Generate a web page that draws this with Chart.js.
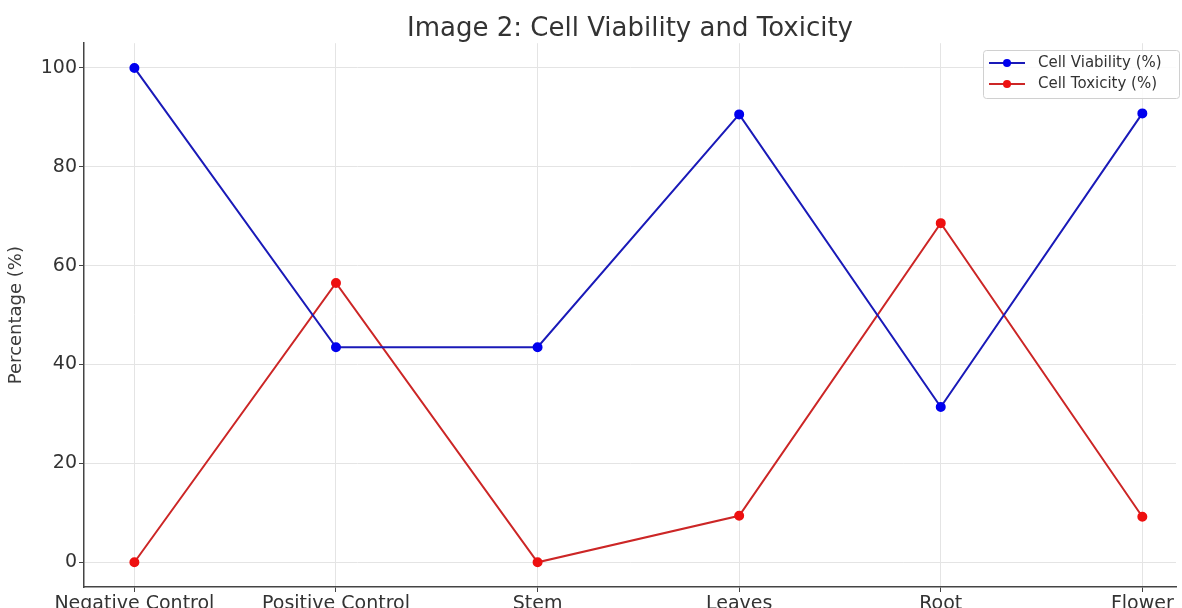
<!DOCTYPE html>
<html>
<head>
<meta charset="utf-8">
<script src="https://cdn.jsdelivr.net/npm/chart.js@4.4.1/dist/chart.umd.min.js"></script>
<style>
  html, body { margin: 0; padding: 0; background: #fff; overflow: hidden; }
  #wrap { width: 1182px; height: 608px; }
</style>
</head>
<body>
<div id="wrap"><canvas id="chart" width="1182" height="608"></canvas></div>
<script>
const categories = ['Negative Control', 'Positive Control', 'Stem', 'Leaves', 'Root', 'Flower'];
const viability  = [100, 43.5, 43.5, 90.6, 31.4, 90.8];
const toxicity   = [0, 56.5, 0, 9.4, 68.6, 9.2];
const yTicks     = [0, 20, 40, 60, 80, 100];

const FONT = "'DejaVu Sans', sans-serif";
const TEXT = '#333333';

const toPoints = arr => arr.map((v, i) => ({ x: i, y: v }));

// matplotlib-style legend box in the upper right corner of the plot
const innerLegend = {
  id: 'innerLegend',
  afterDraw(chart) {
    const ctx = chart.ctx;
    const w = 196, h = 48;
    const x = 983, y = 50;
    ctx.save();
    ctx.fillStyle = 'rgba(255,255,255,0.85)';
    ctx.strokeStyle = '#d0d0d0';
    ctx.lineWidth = 1;
    ctx.beginPath();
    ctx.roundRect(x + 0.5, y + 0.5, w, h, 3);
    ctx.fill();
    ctx.stroke();
    chart.data.datasets.forEach((ds, i) => {
      const cy = y + 13 + i * 21;
      ctx.strokeStyle = ds.borderColor;
      ctx.lineWidth = 2;
      ctx.beginPath();
      ctx.moveTo(x + 6, cy);
      ctx.lineTo(x + 42, cy);
      ctx.stroke();
      ctx.fillStyle = ds.pointBackgroundColor;
      ctx.beginPath();
      ctx.arc(x + 24, cy, 4, 0, Math.PI * 2);
      ctx.fill();
      ctx.fillStyle = TEXT;
      ctx.font = '15px ' + FONT;
      ctx.textBaseline = 'middle';
      ctx.textAlign = 'left';
      ctx.fillText(ds.label, x + 55, cy);
    });
    ctx.restore();
  }
};

new Chart(document.getElementById('chart'), {
  type: 'line',
  data: {
    datasets: [
      {
        label: 'Cell Viability (%)',
        data: toPoints(viability),
        borderColor: '#1a1ab8',
        pointBackgroundColor: '#0000ee',
        pointBorderColor: '#0000ee',
        borderWidth: 2,
        pointRadius: 4,
        tension: 0
      },
      {
        label: 'Cell Toxicity (%)',
        data: toPoints(toxicity),
        borderColor: '#cc2626',
        pointBackgroundColor: '#ee1010',
        pointBorderColor: '#ee1010',
        borderWidth: 2,
        pointRadius: 4,
        tension: 0
      }
    ]
  },
  options: {
    responsive: false,
    animation: false,
    layout: { padding: { left: 6, right: 0, top: 0, bottom: 0 } },
    plugins: {
      legend: { display: false },
      tooltip: { enabled: false },
      title: {
        display: true,
        fullSize: false,
        text: 'Image 2: Cell Viability and Toxicity',
        color: TEXT,
        font: { family: FONT, size: 26, weight: 'normal' },
        padding: { top: 14, bottom: -2 }
      }
    },
    scales: {
      x: {
        type: 'linear',
        min: -0.25,
        max: 5.167,
        afterFit: s => { s.height = 21; },
        afterBuildTicks: s => { s.ticks = categories.map((c, i) => ({ value: i })); },
        ticks: {
          color: TEXT,
          font: { family: FONT, size: 19 },
          padding: 1,
          maxRotation: 0,
          autoSkip: false,
          callback: v => categories[v]
        },
        grid: { color: '#e4e4e4', lineWidth: 1, tickLength: 5, tickColor: '#444' },
        border: { color: '#444', width: 1.5 }
      },
      y: {
        min: -5,
        max: 105,
        afterFit: s => { s.width = 78; },
        afterBuildTicks: s => { s.ticks = yTicks.map(v => ({ value: v })); },
        ticks: {
          color: TEXT,
          font: { family: FONT, size: 19 },
          padding: 2
        },
        title: {
          display: true,
          text: 'Percentage (%)',
          color: '#3a3a3a',
          font: { family: FONT, size: 18 },
          padding: { top: 0, bottom: 0 }
        },
        grid: { color: '#e4e4e4', lineWidth: 1, tickLength: 5, tickColor: '#444' },
        border: { color: '#444', width: 1.5 }
      }
    }
  },
  plugins: [innerLegend]
});
</script>
</body>
</html>
